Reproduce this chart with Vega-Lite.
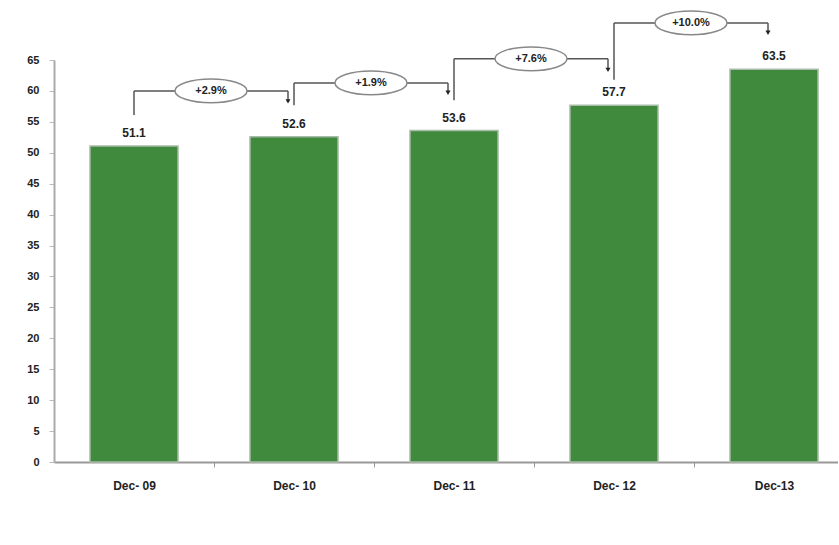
{
  "$schema": "https://vega.github.io/schema/vega-lite/v6.json",
  "width": 784,
  "height": 402,
  "autosize": {"type": "none"},
  "padding": {"left": 54, "top": 60, "right": 0, "bottom": 83},
  "background": "white",
  "config": {
    "view": {"stroke": null},
    "font": "Liberation Sans",
    "axisY": {
      "title": null, "tickCount": 14, "labelOverlap": false, "labelBound": false, "labelFlush": false,
      "grid": false, "labelFont": "Liberation Sans", "labelFontSize": 11, "labelFontWeight": "bold",
      "labelColor": "#222", "domainColor": "#aaa", "domainWidth": 2, "tickColor": "#bbb",
      "tickSize": 5, "labelPadding": 10
    }
  },
  "datasets": {
    "bars": [
      {"period": "Dec- 09", "value": 51.1},
      {"period": "Dec- 10", "value": 52.6},
      {"period": "Dec- 11", "value": 53.6},
      {"period": "Dec- 12", "value": 57.7},
      {"period": "Dec-13", "value": 63.5}
    ],
    "growth": [
      {"from": "Dec- 09", "to": "Dec- 10", "start": 56.1, "level": 60.0, "arrive": 58.3, "label": "+2.9%"},
      {"from": "Dec- 10", "to": "Dec- 11", "start": 57.7, "level": 61.3, "arrive": 59.7, "label": "+1.9%"},
      {"from": "Dec- 11", "to": "Dec- 12", "start": 58.5, "level": 65.2, "arrive": 63.4, "label": "+7.6%"},
      {"from": "Dec- 12", "to": "Dec-13", "start": 61.8, "level": 71.0, "arrive": 69.4, "label": "+10.0%"}
    ]
  },
  "layer": [
    {
      "data": {"name": "bars"},
      "mark": {"type": "bar", "color": "#3f8a3d", "stroke": "#a8bba8", "strokeWidth": 1.5},
      "encoding": {
        "x": {
          "field": "period", "type": "nominal", "sort": null, "title": null,
          "scale": {"range": [0, 800], "paddingInner": 0.45, "paddingOuter": 0.225},
          "axis": {
            "title": null, "labelAngle": 0, "labelFont": "Liberation Sans", "labelFontSize": 12,
            "labelFontWeight": "bold", "labelColor": "#222", "domainColor": "#999", "domainWidth": 2,
            "tickColor": "#999", "tickSize": 5, "tickOffset": 80, "labelOffset": -80, "labelPadding": 13
          }
        },
        "y": {
          "field": "value", "type": "quantitative", "title": null,
          "scale": {"domain": [0, 65], "nice": false, "zero": true}
        }
      }
    },
    {
      "data": {"name": "bars"},
      "mark": {"type": "text", "dy": -13, "fontSize": 12, "fontWeight": "bold", "color": "#222"},
      "encoding": {
        "x": {"field": "period", "type": "nominal", "sort": null},
        "y": {"field": "value", "type": "quantitative"},
        "text": {"field": "value", "type": "quantitative", "format": ".1f"}
      }
    },
    {
      "data": {"name": "growth"},
      "mark": {"type": "rule", "color": "#555", "strokeWidth": 1.5},
      "encoding": {
        "x": {"field": "from", "type": "nominal", "sort": null},
        "y": {"field": "start", "type": "quantitative"},
        "y2": {"field": "level"}
      }
    },
    {
      "data": {"name": "growth"},
      "mark": {"type": "rule", "color": "#555", "strokeWidth": 1.5, "x2Offset": -6},
      "encoding": {
        "x": {"field": "from", "type": "nominal", "sort": null},
        "x2": {"field": "to"},
        "y": {"field": "level", "type": "quantitative"}
      }
    },
    {
      "data": {"name": "growth"},
      "mark": {"type": "rule", "color": "#555", "strokeWidth": 1.5, "xOffset": -6},
      "encoding": {
        "x": {"field": "to", "type": "nominal", "sort": null},
        "y": {"field": "level", "type": "quantitative"},
        "y2": {"field": "arrive"}
      }
    },
    {
      "data": {"name": "growth"},
      "mark": {"type": "point", "shape": "triangle-down", "filled": true, "color": "#222", "size": 25, "xOffset": -6, "opacity": 1},
      "encoding": {
        "x": {"field": "to", "type": "nominal", "sort": null},
        "y": {"field": "arrive", "type": "quantitative"}
      }
    },
    {
      "data": {"name": "growth"},
      "mark": {
        "type": "point",
        "shape": "M-1,0 A1,0.33 0 1,1 1,0 A1,0.33 0 1,1 -1,0 Z",
        "filled": true, "fill": "white", "stroke": "#888", "strokeWidth": 1.5,
        "size": 5184, "xOffset": 77, "opacity": 1
      },
      "encoding": {
        "x": {"field": "from", "type": "nominal", "sort": null},
        "y": {"field": "level", "type": "quantitative"}
      }
    },
    {
      "data": {"name": "growth"},
      "mark": {"type": "text", "xOffset": 77, "fontSize": 11, "fontWeight": "bold", "color": "#222"},
      "encoding": {
        "x": {"field": "from", "type": "nominal", "sort": null},
        "y": {"field": "level", "type": "quantitative"},
        "text": {"field": "label"}
      }
    }
  ]
}
